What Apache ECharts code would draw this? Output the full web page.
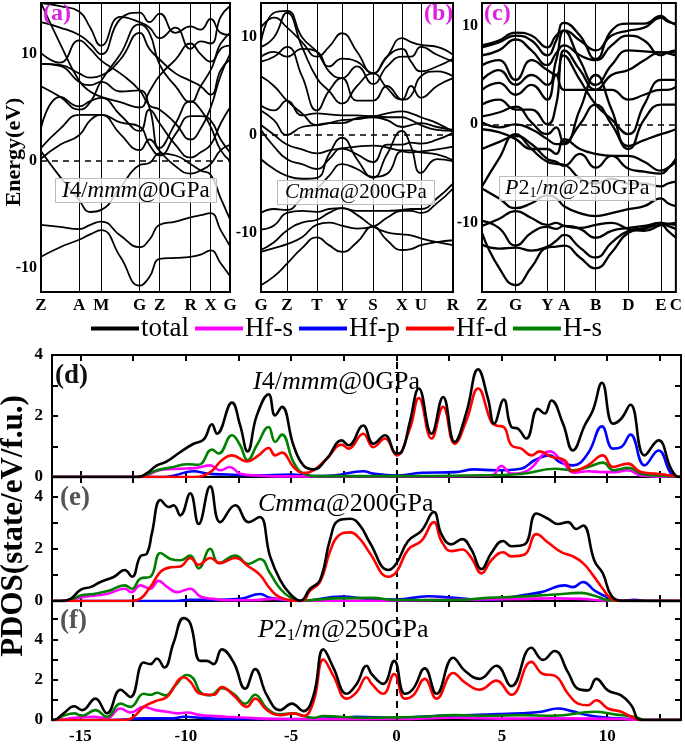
<!DOCTYPE html>
<html><head><meta charset="utf-8">
<script src="https://cdn.jsdelivr.net/npm/echarts@6/dist/echarts.min.js"></script>
<style>html,body{margin:0;padding:0;background:#fff}#c{width:685px;height:745px}</style>
</head><body><div id="c"></div><script>
const F = 'Liberation Serif';
// ---------- band structure panels ----------
const kLabelsA = ['Z','A','M','G','Z','R','X','G'];
const kPosA = [0,38,60,98.3,118.3,149,169,188.3];
const sampleXA = [0,19,38,49,60,79,98.3,108,118.3,134,149,159,169,179,188.3];
const bandsA = [
 [-9.0,-8.1,-7.4,-6.9,-6.5,-9.0,-11.7,-10.9,-9.2,-9.1,-9.0,-8.8,-8.4,-9.6,-10.8],
 [-6.0,-6.2,-6.4,-6.0,-5.7,-7.0,-8.1,-7.4,-6.0,-5.7,-5.3,-5.1,-4.9,-6.5,-8.0],
 [0.9,-1.5,-3.7,-4.8,-4.6,-2.5,-0.4,-0.2,0.7,0.5,-0.3,-0.9,-1.3,-3.5,-5.5],
 [0.2,1.5,2.4,3.8,4.3,2.5,1.0,2.0,0.9,-0.5,-1.2,-0.9,-0.3,1.0,1.5],
 [1.2,3.0,4.3,4.3,4.3,3.6,3.2,1.5,0.5,2.5,4.2,4.2,3.8,2.0,0.8],
 [3.1,6.0,5.1,5.6,5.9,4.3,2.8,4.8,3.5,1.5,0.3,0.8,1.5,3.5,5.0],
 [9.1,8.9,7.4,7.1,7.4,6.5,6.6,5.0,1.2,3.5,5.6,4.8,3.2,1.0,0.0],
 [10.1,9.2,11.3,10.5,9.4,8.2,6.6,5.2,4.8,3.5,2.0,3.0,5.0,8.0,10.0],
 [9.1,9.0,8.2,7.8,8.0,9.5,12.0,10.5,9.5,8.2,7.5,7.0,6.2,8.5,9.5],
 [14.8,11.0,7.5,6.5,6.0,5.5,5.0,6.5,8.0,9.5,11.0,10.0,9.3,11.0,12.0],
 [13.0,12.5,11.8,11.0,10.0,13.3,13.9,13.0,13.8,12.0,12.6,12.3,13.3,12.0,11.8],
 [14.8,14.5,14.0,12.5,10.8,13.5,13.0,12.5,11.5,12.5,10.5,11.2,11.0,13.5,14.5],
 [7.0,6.0,4.8,5.5,7.5,10.0,12.8,12.0,9.0,7.0,5.5,7.0,8.5,10.5,10.8]
];
const kLabelsB = ['G','Z','T','Y','S','X','U','R'];
const kPosB = [0,26,56,81,112,141,160,192];
const sampleXB = [0,13,26,41,56,68,81,96,112,126,141,150,160,176,192];
const bandsB = [
 [-15.4,-14.5,-13.2,-11.6,-10.5,-11.3,-12.0,-11.0,-9.4,-10.8,-11.8,-11.7,-11.3,-11.0,-10.8],
 [-12.0,-11.6,-11.2,-10.5,-9.2,-9.0,-9.3,-9.6,-9.4,-8.5,-7.8,-7.8,-8.0,-7.0,-5.5],
 [-11.8,-11.0,-9.8,-9.0,-8.7,-8.0,-7.5,-8.2,-9.4,-10.0,-10.2,-10.3,-10.6,-11.0,-11.3],
 [-9.7,-9.3,-8.0,-7.8,-7.9,-7.6,-7.5,-7.8,-7.8,-7.8,-7.7,-7.6,-7.6,-6.5,-5.0],
 [-8.0,-7.6,-7.7,-6.5,-5.5,-4.2,-3.0,-3.5,-4.3,-4.0,-1.7,-1.8,-1.7,-1.5,-1.2],
 [-2.5,-3.5,-4.2,-4.5,-4.4,-2.0,-0.3,-2.5,-4.4,-2.0,0.4,-1.2,-3.9,-2.5,-2.7],
 [0.5,-1.2,-2.5,-3.0,-3.5,-2.5,-1.4,-2.0,-2.8,-1.0,-1.0,-0.8,-0.9,-0.5,0.2],
 [1.0,0.0,-1.0,-1.5,-1.9,-1.6,-1.4,-1.2,-1.1,-1.3,-1.6,-1.6,-1.8,-2.0,-2.6],
 [2.5,1.5,0.0,0.8,1.0,1.2,1.2,1.7,1.9,1.8,1.8,1.5,1.0,0.5,0.4],
 [3.0,2.5,3.5,2.0,2.2,2.1,2.0,2.0,1.9,2.2,2.4,2.2,1.8,1.2,0.3],
 [6.0,5.0,3.5,2.2,1.0,1.2,1.5,1.6,1.8,1.5,0.8,1.0,1.2,0.8,0.5],
 [7.5,8.0,9.0,6.0,2.5,4.5,5.8,3.5,3.5,5.0,3.6,5.0,3.8,5.0,5.8],
 [9.0,10.0,12.5,9.0,5.8,4.5,3.2,5.0,6.3,4.8,3.6,4.0,6.0,6.5,6.0],
 [9.5,12.5,12.7,10.0,8.5,7.0,7.8,7.5,6.3,8.0,8.8,7.5,6.5,7.0,7.8],
 [11.0,12.0,11.0,9.5,8.0,9.0,10.4,8.5,6.3,8.0,9.9,9.5,9.2,9.0,8.2],
 [8.0,8.5,8.0,8.8,8.5,6.5,5.8,7.0,5.2,7.0,8.0,8.0,9.0,8.2,7.5]
];
const kLabelsC = ['Z','G','Y','A','B','D','E','C'];
const kPosC = [0,34,66,83,115,148,181,196];
const sampleXC = [0,17,34,50,66,75,83,99,115,131,148,164,181,188,196];
const bandsC = [
 [-11.0,-14.5,-16.3,-14.5,-12.5,-12.4,-12.3,-13.5,-14.6,-13.0,-11.0,-10.6,-10.2,-10.8,-11.5],
 [-12.2,-12.6,-12.5,-12.8,-12.4,-11.8,-11.2,-12.5,-13.5,-12.0,-10.8,-10.5,-10.0,-10.3,-10.6],
 [-9.8,-10.5,-12.3,-11.0,-10.4,-10.6,-10.3,-10.6,-11.5,-10.8,-10.5,-10.3,-10.0,-10.1,-10.2],
 [-10.3,-9.6,-8.8,-9.5,-10.2,-10.0,-10.3,-10.5,-10.2,-10.0,-10.6,-10.8,-10.2,-10.1,-10.0],
 [-6.5,-7.5,-8.5,-8.0,-7.2,-7.5,-8.3,-9.0,-9.3,-9.0,-8.6,-8.3,-7.5,-8.0,-8.3],
 [-6.3,-3.5,-1.0,-2.5,-3.8,-4.0,-4.1,-5.5,-6.0,-5.5,-6.0,-6.0,-6.3,-6.0,-5.8],
 [-2.5,-1.8,-1.2,-2.0,-3.5,-3.8,-4.2,-3.0,-4.4,-3.2,-4.5,-4.8,-5.0,-4.5,-3.5],
 [-0.5,-0.8,-1.5,-2.5,-2.5,-3.0,-1.5,-2.5,-3.0,-3.2,-3.2,-3.8,-4.7,-4.4,-3.8],
 [0.2,-0.3,0.0,-0.5,-1.5,-2.0,-2.0,1.5,5.0,1.5,-2.2,-1.6,-1.0,-0.8,-0.5],
 [0.8,1.2,1.8,0.2,-1.0,-0.3,-1.8,0.0,2.0,0.0,-2.5,0.5,2.0,2.0,2.0],
 [2.0,2.5,1.5,1.5,0.0,2.0,7.0,4.5,2.0,0.5,-1.0,2.0,4.5,4.5,4.5],
 [3.5,4.2,3.0,4.0,2.5,5.0,3.5,3.5,3.5,3.5,2.5,3.0,3.5,3.5,3.8],
 [4.5,5.5,4.0,5.0,4.0,6.5,9.5,6.5,4.0,6.0,7.5,7.4,7.3,7.3,7.3],
 [6.0,6.5,4.5,6.5,5.5,5.0,7.5,5.5,3.5,5.0,5.5,6.5,7.3,7.2,7.0],
 [7.0,7.5,8.6,7.5,6.0,7.2,8.0,7.0,6.5,8.0,9.0,8.5,7.0,7.3,7.5],
 [7.8,8.3,9.0,8.5,7.0,8.5,10.3,9.0,6.6,9.5,10.2,10.2,11.0,10.5,10.1],
 [8.0,8.5,9.3,9.0,7.8,9.0,9.5,8.5,7.5,9.0,9.5,9.8,10.8,10.4,10.2]
];
const eRangeA = [-12.3, 14.8], eRangeB = [-16.1, 13.5], eRangeC = [-17.0, 12.3];
const bandTickValues = [-10, 0, 10];

// ---------- PDOS panels: [energy, states] ----------
const dTotal = [[-16.35,0],[-12.3,0],[-11.9,0.1],[-11.37,0.38],[-10.9,0.51],[-10.26,0.82],[-9.63,1.09],[-9.15,1.23],[-8.76,1.73],[-8.52,1.42],[-7.81,2.44],[-7.42,1.69],[-7.07,0.84],[-6.63,2.02],[-6.07,2.71],[-5.76,2.02],[-5.44,2.30],[-4.89,1.04],[-4.42,0.38],[-3.94,0.25],[-3.31,0.6],[-2.6,1.2],[-2.28,1.04],[-1.58,1.69],[-1.1,1.09],[-0.55,1.37],[0,0.77],[0.24,0.82],[0.63,1.8],[1.06,2.9],[1.66,1.42],[2.21,2.62],[2.76,1.15],[3.32,2.13],[3.87,3.53],[4.34,2.57],[4.63,1.75],[5.09,2.54],[5.45,1.64],[5.77,1.58],[6.16,1.26],[6.71,2.24],[7.03,2.08],[7.35,2.51],[7.9,1.75],[8.37,0.87],[8.93,1.69],[9.32,2.19],[9.75,3.09],[10.27,1.75],[10.66,1.91],[11.1,2.37],[11.77,0.71],[12.43,1.2],[13.03,0.27],[13.4,0],[13.5,0]];
const dHfs = [[-16.35,0],[-12,0],[-11.7,0.1],[-11.05,0.25],[-10.26,0.27],[-9.47,0.3],[-8.84,0.38],[-8.37,0.22],[-7.9,0.33],[-7.42,0.11],[-6.63,0.05],[-5.5,0.02],[0,0.02],[4.5,0.05],[4.98,0.36],[5.45,0.11],[6.24,0.22],[7.27,0.84],[7.82,0.55],[8.45,0.14],[9.08,0.19],[9.7,0.16],[10.35,0.16],[10.98,0.22],[11.6,0.05],[13.5,0]];
const dHfp = [[-16.35,0],[-11,0],[-10.5,0.06],[-9.63,0.19],[-9.0,0.11],[-8.0,0.08],[-6.6,0.05],[-5.0,0.08],[-4.0,0.03],[-3,0.05],[-1.57,0.19],[-1.1,0.11],[0,0.05],[1.2,0.14],[2.76,0.16],[3.7,0.25],[4.7,0.22],[5.9,0.27],[6.55,0.55],[7.27,0.71],[7.74,0.49],[8.37,0.38],[9.08,0.77],[9.75,1.66],[10.27,0.93],[10.66,0.98],[11.1,1.39],[11.77,0.38],[12.43,0.87],[13.03,0.11],[13.4,0],[13.5,0]];
const dHfd = [[-16.35,0],[-9.6,0],[-8.84,0.16],[-8.29,0.55],[-7.81,0.71],[-7.1,0.51],[-6.55,0.71],[-6.07,0.95],[-5.76,0.71],[-5.44,0.8],[-4.89,0.33],[-4.42,0.13],[-3.94,0.22],[-3.31,0.6],[-2.6,1.06],[-2.28,0.93],[-1.58,1.42],[-1.1,0.98],[-0.55,1.26],[0,0.71],[0.63,1.58],[1.06,2.59],[1.66,1.26],[2.21,2.3],[2.76,1.09],[3.32,1.86],[3.87,2.9],[4.5,1.8],[4.74,1.69],[5.09,1.64],[5.45,1.04],[5.92,0.93],[6.4,0.71],[6.79,0.84],[7.35,0.66],[7.98,0.55],[8.37,0.19],[9.08,0.38],[9.79,0.71],[10.27,0.33],[10.98,0.44],[11.6,0.16],[12.24,0.11],[13.0,0.05],[13.5,0]];
const dHs = [[-16.35,0],[-12.3,0],[-11.37,0.22],[-10.58,0.33],[-9.94,0.42],[-9.39,0.4],[-8.76,0.9],[-8.44,0.77],[-7.81,1.37],[-7.42,1.04],[-7.07,0.55],[-6.63,1.04],[-6.07,1.64],[-5.76,1.15],[-5.44,1.39],[-4.89,0.49],[-4.42,0.11],[-3.78,0.03],[0,0.03],[3.5,0.05],[5.9,0.1],[7.5,0.27],[8.4,0.22],[9.1,0.33],[9.8,0.47],[10.3,0.22],[11.0,0.3],[11.6,0.11],[12.3,0.05],[13.5,0]];

const eTotal = [[-16.35,0],[-15.95,0],[-15.47,0.08],[-15.0,0.43],[-14.5,0.54],[-14.05,0.73],[-13.4,0.93],[-12.9,1.19],[-12.55,0.93],[-12.16,1.71],[-11.84,1.82],[-11.6,2.63],[-11.2,3.87],[-10.8,3.6],[-10.58,3.67],[-10.26,3.28],[-9.79,4.13],[-9.39,2.95],[-8.84,4.39],[-8.37,3.02],[-7.65,3.67],[-7.02,3.02],[-6.5,3.22],[-6.0,1.71],[-5.52,0.8],[-5.05,0.27],[-4.57,0.01],[-4.1,0.47],[-3.63,0.8],[-3.15,2.37],[-2.76,3.08],[-2.2,3.15],[-1.73,2.89],[-1.27,2.24],[-0.39,1.19],[0,1.45],[0.55,2.3],[1.18,2.69],[1.77,3.41],[2.13,2.56],[2.6,2.17],[3.11,2.37],[3.55,1.97],[4.03,1.22],[4.5,1.84],[5.06,2.3],[5.45,2.1],[6.08,2.17],[6.64,3.35],[7.19,3.15],[7.66,2.95],[8.14,3.02],[8.53,2.76],[8.85,2.89],[9.4,1.52],[9.79,1.06],[10.19,0.21],[10.66,0.01],[13.5,0]];
const eHfs = [[-16.35,0],[-15.7,0],[-15.0,0.14],[-13.74,0.27],[-12.9,0.47],[-12.58,0.34],[-12.16,0.6],[-11.68,0.47],[-11.3,0.77],[-10.89,0.54],[-10.42,0.34],[-9.79,0.47],[-9.31,0.17],[-8.68,0.08],[-8.05,0.03],[-6.63,0.04],[-5.84,0.08],[-4.57,0],[0,0.02],[5.9,0.08],[7.5,0.1],[8.8,0.08],[9.8,0.02],[13.5,0]];
const eHfp = [[-16.35,0],[-10.5,0],[-9.79,0.05],[-8.68,0.04],[-7.42,0.08],[-6.47,0.27],[-6.0,0.12],[-4.57,0],[-2.6,0.17],[-1.27,0.08],[0,0.06],[1.5,0.18],[2.76,0.12],[4.35,0.04],[5.9,0.21],[6.87,0.34],[7.98,0.6],[8.37,0.53],[8.85,0.73],[9.4,0.4],[10.03,0.14],[10.66,0],[11.3,0.05],[11.8,0],[13.5,0]];
const eHfd = [[-16.35,0],[-12.8,0],[-12.3,0.04],[-11.68,0.54],[-11.2,1.12],[-10.73,1.29],[-10.26,1.32],[-9.79,1.65],[-9.39,1.39],[-8.84,1.65],[-8.37,1.45],[-7.65,1.65],[-7.02,1.32],[-6.47,0.99],[-6.0,0.47],[-5.52,0.14],[-4.5,0],[-4.1,0.4],[-3.63,0.73],[-3.15,1.91],[-2.76,2.5],[-2.2,2.63],[-1.73,2.37],[-1.27,1.84],[-0.39,0.93],[0,1.12],[0.55,1.97],[1.18,2.3],[1.77,3.02],[2.13,2.3],[2.6,1.91],[3.11,1.97],[3.55,1.65],[4.03,1.06],[4.5,1.56],[5.06,1.87],[5.45,1.71],[6.08,1.78],[6.64,2.56],[7.19,2.24],[7.82,1.87],[8.37,1.71],[8.85,1.45],[9.32,0.99],[9.79,0.47],[10.19,0.08],[10.6,0],[13.5,0]];
const eHs = [[-16.35,0],[-15.95,0],[-15.47,0.04],[-15.0,0.21],[-14.37,0.27],[-13.7,0.38],[-12.9,0.6],[-12.55,0.47],[-12.16,0.86],[-11.68,0.93],[-11.2,1.84],[-10.73,1.61],[-10.26,1.56],[-9.79,1.74],[-9.39,1.25],[-8.84,2.0],[-8.44,1.45],[-7.65,1.74],[-7.02,1.42],[-6.47,1.61],[-6.0,1.06],[-5.52,0.47],[-5.05,0.14],[-4.57,0.01],[-3.0,0.1],[-1.2,0.12],[0,0.04],[2.8,0.04],[4.3,0.12],[5.9,0.17],[7.5,0.25],[8.77,0.31],[9.4,0.2],[10.0,0.04],[10.66,0],[13.5,0]];

const fTotal = [[-16.35,0],[-16.26,0],[-15.8,0.33],[-15.3,0.68],[-14.92,0.49],[-14.29,1.06],[-13.74,0.33],[-13.1,1.5],[-12.63,1.14],[-12.0,2.85],[-11.68,2.77],[-11.37,3.05],[-11.02,2.6],[-10.58,3.83],[-10.1,5.05],[-9.79,4.8],[-9.31,2.93],[-9.0,2.93],[-8.68,2.77],[-8.29,3.5],[-7.73,2.85],[-7.18,1.55],[-6.71,2.52],[-6.15,1.22],[-5.52,0.49],[-4.97,0.81],[-4.42,0.44],[-3.94,1.22],[-3.47,3.5],[-3.0,2.6],[-2.36,1.3],[-1.89,1.79],[-1.42,2.69],[-1.18,2.28],[-0.63,1.79],[-0.11,2.93],[0.39,1.3],[0.79,1.55],[1.34,2.56],[1.9,1.3],[2.69,3.09],[3.24,2.44],[3.95,2.04],[4.74,2.69],[5.45,1.68],[6.4,3.58],[6.95,2.98],[7.5,3.42],[8.14,2.36],[8.61,1.55],[9.08,1.47],[9.48,2.04],[10.03,1.47],[10.66,1.22],[11.14,0.73],[11.6,0],[13.5,0]];
const fHfs = [[-16.35,0],[-16.2,0],[-15.3,0.11],[-14.37,0.16],[-13.74,0.08],[-13.1,0.57],[-12.63,0.37],[-12.0,0.65],[-11.45,0.49],[-10.9,0.41],[-10.42,0.33],[-9.95,0.37],[-9.31,0.24],[-8.68,0.2],[-8.05,0.16],[-7.1,0.11],[-5.84,0.05],[-4.26,0.04],[0,0.05],[2.76,0.11],[5,0.07],[7.5,0.08],[10.66,0.05],[11.5,0],[13.5,0]];
const fHfp = [[-16.35,0],[-13.5,0],[-12.0,0.08],[-10.58,0.08],[-10.1,0.16],[-9.0,0.08],[-7.42,0.05],[-4.26,0.05],[-2.5,0.1],[-1.97,0.16],[0,0.11],[2.0,0.21],[3.55,0.24],[4.82,0.29],[5.92,0.33],[6.87,0.41],[7.66,0.57],[8.3,0.44],[9.08,0.24],[10.03,0.11],[11.14,0.05],[11.6,0],[13.5,0]];
const fHfd = [[-16.35,0],[-13.0,0],[-12.63,0.05],[-12.0,0.65],[-11.45,0.93],[-10.9,1.14],[-10.1,2.12],[-9.79,1.9],[-9.31,1.3],[-8.68,1.25],[-8.29,1.63],[-7.73,1.22],[-7.1,0.65],[-6.71,1.06],[-6.15,0.49],[-5.52,0.24],[-4.89,0.33],[-4.42,0.2],[-3.94,0.9],[-3.47,3.0],[-3.0,2.2],[-2.36,1.06],[-1.89,1.38],[-1.42,2.12],[-1.18,1.79],[-0.63,1.3],[-0.11,2.28],[0.39,1.06],[0.79,1.22],[1.34,2.04],[1.9,1.06],[2.69,2.33],[3.24,1.87],[3.95,1.5],[4.74,1.95],[5.45,1.25],[6.4,2.88],[6.95,2.28],[7.5,2.2],[8.14,1.3],[8.61,0.81],[9.08,0.73],[9.48,0.98],[10.03,0.57],[10.66,0.41],[11.14,0.16],[11.6,0],[13.5,0]];
const fHs = [[-16.35,0],[-16.26,0],[-15.8,0.21],[-15.3,0.33],[-14.92,0.21],[-14.29,0.49],[-13.74,0.16],[-13.1,0.81],[-12.63,0.65],[-12.0,1.3],[-11.68,1.25],[-11.37,1.35],[-10.98,1.22],[-10.5,1.71],[-9.95,2.23],[-9.63,2.04],[-9.31,1.38],[-8.84,1.22],[-8.29,1.58],[-7.73,1.3],[-7.18,0.81],[-6.71,1.25],[-6.15,0.57],[-5.52,0.28],[-4.89,0.33],[-4.42,0.21],[-3.94,0.11],[-3.47,0.2],[-2.7,0.16],[-1.34,0.11],[0,0.13],[1.2,0.16],[2.76,0.24],[4.35,0.21],[5.9,0.24],[7.5,0.21],[9.4,0.41],[10.35,0.28],[11.3,0.16],[11.8,0],[13.5,0]];

const pdosNames = ['total','Hf-s','Hf-p','Hf-d','H-s'];
const pdosColors = ['#000000','#ff00ff','#0000ff','#ff0000','#008000'];
const pdosXRange = [-16.35, 13.5];
const pdosXTicks = [-15,-12.5,-10,-7.5,-5,-2.5,0,2.5,5,7.5,10,12.5];
const pdosXLabels = [-15,-10,-5,0,5,10];
const pdosYMax = [4, 4.75, 5.9];

// ---------- layout ----------
const bandGrids = [
  {left:41, top:3, width:189, height:289},
  {left:261, top:3, width:192, height:289},
  {left:482, top:3, width:196, height:289}
];
const pdosGrids = [
  {left:52, top:355, width:629, height:122},
  {left:52, top:477, width:629, height:124},
  {left:52, top:601, width:629, height:122}
];

const bandPanels = [
  {labels:kLabelsA, pos:kPosA, xs:sampleXA, bands:bandsA, range:eRangeA, lw:1.8},
  {labels:kLabelsB, pos:kPosB, xs:sampleXB, bands:bandsB, range:eRangeB, lw:1.8},
  {labels:kLabelsC, pos:kPosC, xs:sampleXC, bands:bandsC, range:eRangeC, lw:2.3}
];
const pdosPanels = [
  [dTotal,dHfs,dHfp,dHfd,dHs],
  [eTotal,eHfs,eHfp,eHfd,eHs],
  [fTotal,fHfs,fHfp,fHfd,fHs]
];

const grid = [], xAxis = [], yAxis = [], series = [];
bandGrids.concat(pdosGrids).forEach(g => grid.push(Object.assign({show:true, borderColor:'#000', borderWidth:2, backgroundColor:'transparent'}, g)));
const noLine = {show:false, onZero:false};

bandPanels.forEach((p, i) => {
  xAxis.push({type:'value', gridIndex:i, min:0, max:p.pos[p.pos.length-1],
    axisLine:noLine, axisTick:{show:false}, splitLine:{show:false},
    axisLabel:{customValues:p.pos, showMinLabel:true, showMaxLabel:true, margin:5,
      fontFamily:F, fontWeight:'bold', fontSize:17, color:'#000',
      formatter:(v)=>{const k=p.pos.findIndex(q=>Math.abs(q-v)<1e-6); return k>=0?p.labels[k]:'';}}});
  yAxis.push({type:'value', gridIndex:i, min:p.range[0], max:p.range[1],
    axisLine:noLine, axisTick:{show:false}, splitLine:{show:false},
    axisLabel:{customValues:bandTickValues, margin:4, fontFamily:F, fontWeight:'bold', fontSize:16, color:'#000'}});
});
pdosPanels.forEach((p, j) => {
  const gi = 3 + j;
  xAxis.push({type:'value', gridIndex:gi, min:pdosXRange[0], max:pdosXRange[1], position:'bottom',
    axisLine:noLine, splitLine:{show:false},
    axisTick:{show:true, inside:true, length:6, customValues:pdosXTicks, lineStyle:{color:'#000', width:2}},
    axisLabel:{show:j===2, customValues:pdosXLabels, margin:8, fontFamily:F, fontWeight:'bold', fontSize:17, color:'#000'}});
  yAxis.push({type:'value', gridIndex:gi, min:0, max:pdosYMax[j], position:'left',
    axisLine:noLine, splitLine:{show:false},
    axisTick:{show:true, inside:true, length:6, customValues:[1,2,3,4,5].filter(v=>v<pdosYMax[j]), lineStyle:{color:'#000', width:2}},
    axisLabel:{customValues:[0,2,4], margin:9, fontFamily:F, fontWeight:'bold', fontSize:17, color:'#000'}});
});
pdosPanels.forEach((p, j) => {
  const gi = 3 + j;
  xAxis.push({type:'value', gridIndex:gi, min:pdosXRange[0], max:pdosXRange[1], position:'top',
    axisLine:noLine, splitLine:{show:false}, axisLabel:{show:false},
    axisTick:{show:true, inside:true, length:6, customValues:pdosXTicks, lineStyle:{color:'#000', width:2}}});
  yAxis.push({type:'value', gridIndex:gi, min:0, max:pdosYMax[j], position:'right',
    axisLine:noLine, splitLine:{show:false}, axisLabel:{show:false},
    axisTick:{show:true, inside:true, length:6, customValues:[1,2,3,4,5].filter(v=>v<pdosYMax[j]), lineStyle:{color:'#000', width:2}}});
});

bandPanels.forEach((p, i) => {
  p.bands.forEach((b, k) => {
    const s = {type:'line', xAxisIndex:i, yAxisIndex:i, data:b.map((e, n)=>[p.xs[n], e]),
      smooth:0.5, symbol:'none', lineStyle:{color:'#000', width:p.lw}, silent:true, z:3};
    if (k === 0) {
      s.markLine = {silent:true, symbol:['none','none'], label:{show:false}, animation:false,
        data: p.pos.slice(1,-1).map(v=>({xAxis:v, lineStyle:{color:'#000', width:1, type:'solid'}}))
          .concat([{yAxis:0, lineStyle:{color:'#000', width:1.5, type:[6,5]}}])};
    }
    series.push(s);
  });
});
const drawOrder = [2,1,4,3,0];
pdosPanels.forEach((p, j) => {
  const gi = 3 + j;
  drawOrder.forEach((k, n) => {
    const s = {type:'line', name:pdosNames[k], xAxisIndex:gi, yAxisIndex:gi, data:p[k], smooth:0.45,
      symbol:'none', color:pdosColors[k], lineStyle:{color:pdosColors[k], width:2.6}, z:3+n, silent:true};
    if (n === 0) {
      s.markLine = {silent:true, symbol:['none','none'], label:{show:false}, animation:false,
        data:[{xAxis:0, lineStyle:{color:'#000', width:2, type:[7,5]}}]};
    }
    series.push(s);
  });
});

const rt = (sz) => ({
  i:{fontFamily:F, fontStyle:'italic', fontWeight:'normal', fontSize:sz, color:'#000'},
  r:{fontFamily:F, fontWeight:'normal', fontSize:sz, color:'#000'},
  s:{fontFamily:F, fontWeight:'normal', fontSize:Math.round(sz*0.62), color:'#000', padding:[Math.round(sz*0.45),0,0,0]}
});
const boxStyle = {backgroundColor:'rgba(255,255,255,0.8)', borderColor:'#bbbbbb', borderWidth:1};
const title = [
  {text:'(a)', left:43, top:2, padding:0, textStyle:{fontFamily:F, fontWeight:'bold', fontSize:24, color:'#e020e0'}},
  {text:'(b)', left:424, top:2, padding:0, textStyle:{fontFamily:F, fontWeight:'bold', fontSize:24, color:'#e020e0'}},
  {text:'(c)', left:484, top:2, padding:0, textStyle:{fontFamily:F, fontWeight:'bold', fontSize:24, color:'#e020e0'}},
  Object.assign({text:'{i|I}{r|4/}{i|mmm}{r|@0GPa}', left:55, top:178, padding:[1,7,1,7], textStyle:{fontWeight:'normal', rich:rt(23)}}, boxStyle),
  Object.assign({text:'{i|Cmma}{r|@200GPa}', left:277, top:180, padding:[2,8,2,8], textStyle:{fontWeight:'normal', rich:rt(21)}}, boxStyle),
  Object.assign({text:'{i|P}{r|2}{s|1}{r|/}{i|m}{r|@250GPa}', left:499, top:175, padding:[1,6,1,6], textStyle:{fontWeight:'normal', rich:rt(22)}}, boxStyle),
  {text:'(d)', left:55, top:363, padding:0, textStyle:{fontFamily:F, fontWeight:'bold', fontSize:27, color:'#111'}},
  {text:'(e)', left:60, top:485, padding:0, textStyle:{fontFamily:F, fontWeight:'bold', fontSize:27, color:'#555'}},
  {text:'(f)', left:60, top:608, padding:0, textStyle:{fontFamily:F, fontWeight:'bold', fontSize:27, color:'#555'}},
  {text:'{i|I}{r|4/}{i|mmm}{r|@0GPa}', left:253, top:369, padding:0, textStyle:{fontWeight:'normal', rich:rt(26)}},
  {text:'{i|Cmma}{r|@200GPa}', left:258, top:491, padding:0, textStyle:{fontWeight:'normal', rich:rt(26)}},
  {text:'{i|P}{r|2}{s|1}{r|/}{i|m}{r|@250GPa}', left:258, top:616, padding:0, textStyle:{fontWeight:'normal', rich:rt(26)}}
];

const option = {
  animation:false,
  backgroundColor:'#fff',
  title, grid, xAxis, yAxis, series,
  legend:{top:315, left:91, padding:0, itemWidth:48, itemHeight:4, itemGap:6, icon:'rect',
    data:pdosNames, selectedMode:false,
    textStyle:{fontFamily:F, fontSize:27, color:'#000', padding:[0,0,0,-3]}},
  graphic:[
    {type:'text', x:14, y:152, rotation:Math.PI/2, style:{text:'Energy(eV)', fontFamily:F, fontWeight:'bold', fontSize:22, fill:'#000', align:'center', verticalAlign:'middle'}},
    {type:'text', x:14, y:526, rotation:Math.PI/2, style:{text:'PDOS(state/eV/f.u.)', fontFamily:F, fontWeight:'bold', fontSize:31, fill:'#000', align:'center', verticalAlign:'middle'}}
  ]
};
const chart = echarts.init(document.getElementById('c'), null, {renderer:'canvas'});
chart.setOption(option);
</script></body></html>
